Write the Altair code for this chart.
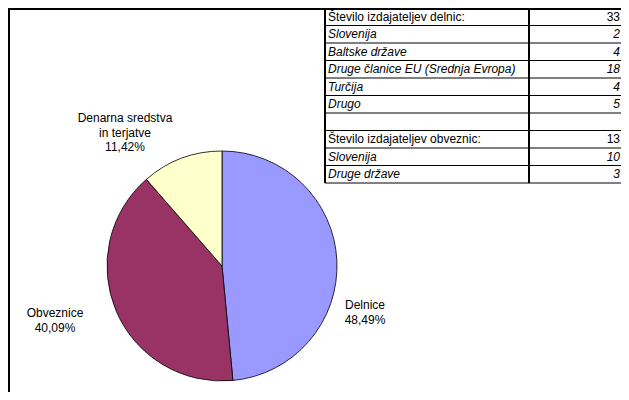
import altair as alt
import pandas as pd

# ---- data ----
title_text = "Sestava naložb vzajemnega sklada po tipih naložb"

categories = ["Delnice", "Obveznice", "Denarna sredstva\nin terjatve"]
shares = [48.49, 40.09, 11.42]
colors = ["#9999FF", "#993366", "#FFFFCC"]

table_labels = [
    "Število izdajateljev delnic:",
    "Slovenija",
    "Baltske države",
    "Druge članice EU (Srednja Evropa)",
    "Turčija",
    "Drugo",
    "",
    "Število izdajateljev obveznic:",
    "Slovenija",
    "Druge države",
]
table_values = ["33", "2", "4", "18", "4", "5", "", "13", "10", "3"]
table_italic = [False, True, True, True, True, True, False, False, True, True]

FONT = "Liberation Sans"
W, H = 613, 384

# ---- tables for the library ----
pie_df = pd.DataFrame({
    "cat": categories,
    "share": shares,
    "order": list(range(len(categories))),
})
pie_df["label"] = [
    c + "\n" + f"{s:.2f}".replace(".", ",") + "%" for c, s in zip(categories, shares)
]

n_rows = len(table_labels)
tab_df = pd.DataFrame({
    "row": list(range(n_rows)),
    "label": table_labels,
    "value": table_values,
    "italic": table_italic,
})
tab_df["mid"] = tab_df["row"] + 0.5
lines_df = pd.DataFrame({"b": list(range(n_rows + 1))})

yscale = alt.Scale(domain=[0, n_rows], range=[0, 175], zero=False, nice=False)

# ---- pie ----
pie = alt.Chart(pie_df).mark_arc(radius=115, stroke="black", strokeWidth=0.8).encode(
    theta=alt.Theta("share:Q", stack=True),
    color=alt.Color("cat:N", scale=alt.Scale(domain=categories, range=colors), legend=None),
    order=alt.Order("order:Q"),
    x=alt.value(214),
    y=alt.value(258),
)

label_pos = {
    "Delnice": (357, 297),
    "Obveznice": (47, 305),
    "Denarna sredstva\nin terjatve": (117, 110),
}
label_layers = []
for cat, (lx, ly) in label_pos.items():
    label_layers.append(
        alt.Chart(pie_df).transform_filter(alt.datum.cat == cat).mark_text(
            lineBreak="\n", lineHeight=14.5, align="center", baseline="middle",
            font=FONT, fontSize=12, color="black",
        ).encode(text="label:N", x=alt.value(lx), y=alt.value(ly))
    )

# ---- table ----
hlines = alt.Chart(lines_df).mark_rule(color="black", strokeWidth=1).encode(
    y=alt.Y("b:Q", scale=yscale, axis=None),
    x=alt.value(317),
    x2=alt.value(W + 5),
)
vline1 = alt.Chart(lines_df).mark_rule(color="black", strokeWidth=1).encode(
    x=alt.value(317), y=alt.value(0), y2=alt.value(175)
)
vline2 = alt.Chart(lines_df).mark_rule(color="black", strokeWidth=1).encode(
    x=alt.value(521), y=alt.value(0), y2=alt.value(175)
)

tab_layers = []
for italic in (False, True):
    style = "italic" if italic else "normal"
    base = alt.Chart(tab_df).transform_filter(alt.datum.italic == italic)
    tab_layers.append(
        base.mark_text(align="left", baseline="middle", font=FONT, fontSize=12,
                       fontStyle=style, color="black").encode(
            y=alt.Y("mid:Q", scale=yscale, axis=None),
            x=alt.value(320),
            text="label:N",
        )
    )
    tab_layers.append(
        base.mark_text(align="right", baseline="middle", font=FONT, fontSize=12,
                       fontStyle=style, color="black").encode(
            y=alt.Y("mid:Q", scale=yscale, axis=None),
            x=alt.value(W - 1),
            text="value:N",
        )
    )

# ---- frame and (cropped) title ----
frame_left = alt.Chart(lines_df).mark_rule(color="black", strokeWidth=2).encode(
    x=alt.value(1), y=alt.value(0), y2=alt.value(H + 5)
)
frame_top = alt.Chart(lines_df).mark_rule(color="black", strokeWidth=2).encode(
    y=alt.value(1), x=alt.value(0), x2=alt.value(W + 5)
)
title = alt.Chart(pd.DataFrame({"t": [title_text]})).mark_text(
    align="left", baseline="alphabetic", font=FONT, fontSize=13, fontWeight="bold", color="black"
).encode(text="t:N", x=alt.value(0), y=alt.value(-1))

chart = alt.layer(
    pie, *label_layers, hlines, vline1, vline2, *tab_layers, title, frame_left, frame_top
).properties(
    width=W, height=H,
    autosize=alt.AutoSizeParams(type="none"),
    padding=0,
).configure_view(stroke=None)

chart.save("out.html", embed_options={"renderer": "svg", "actions": False})
